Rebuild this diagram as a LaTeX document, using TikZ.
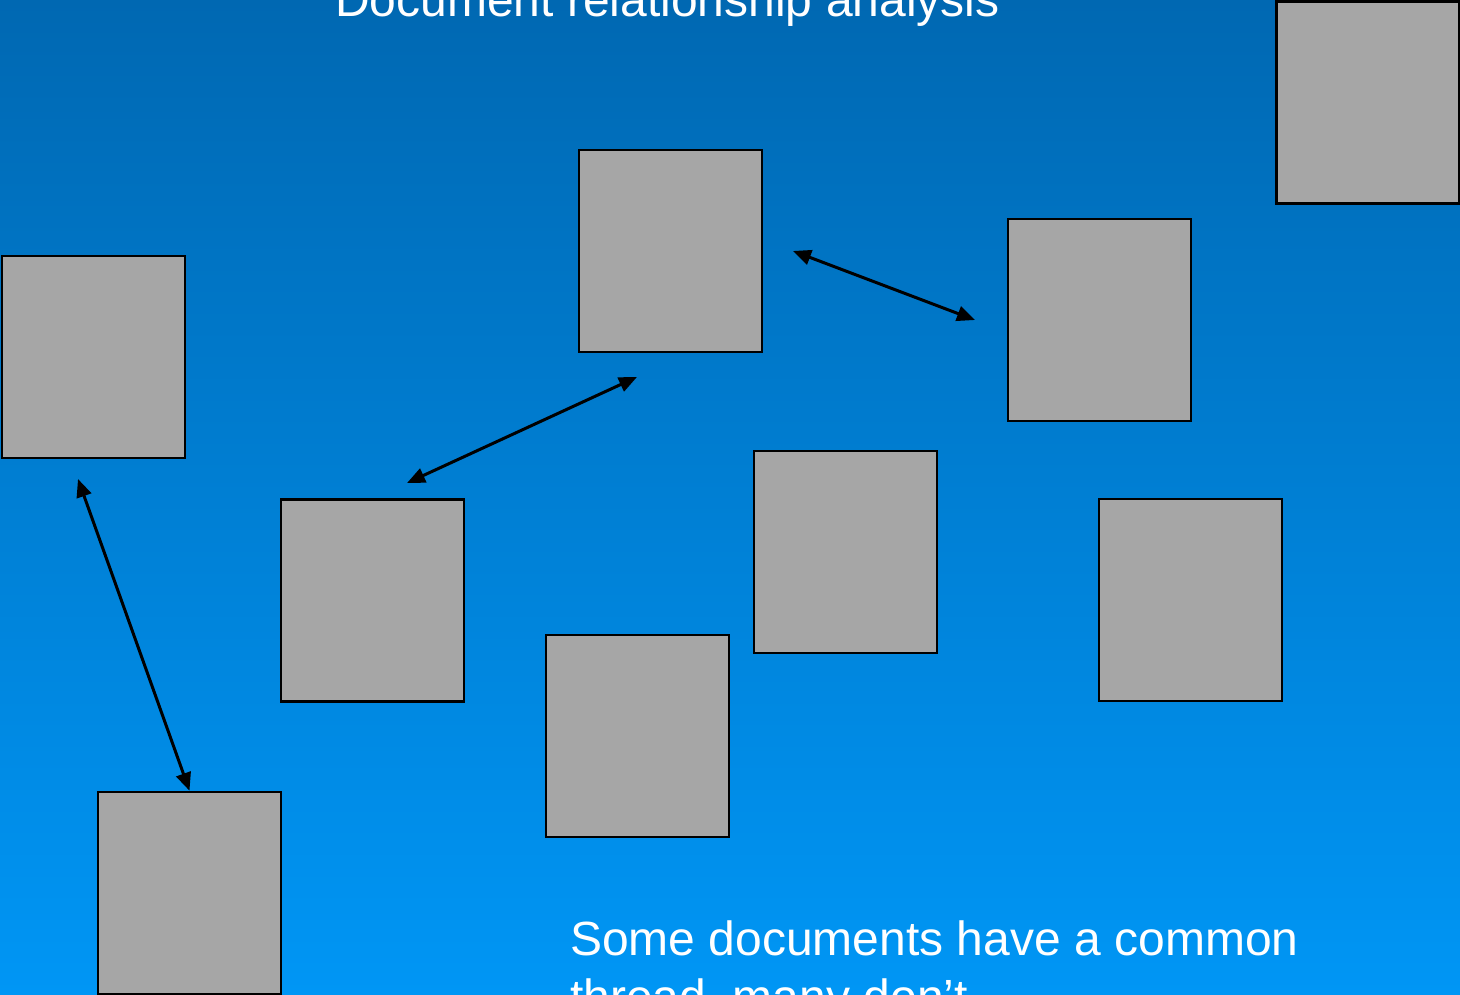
\documentclass[tikz,border=0pt]{standalone}
\usepackage{fontspec}
\setmainfont{Liberation Sans}
\usetikzlibrary{arrows.meta}
\definecolor{bgtop}{RGB}{0,104,178}
\definecolor{bgbot}{RGB}{0,150,245}
\definecolor{docgray}{RGB}{166,166,166}
\begin{document}
\begin{tikzpicture}[x=1pt,y=-1pt,
    doc/.style={draw=black,line width=2.5pt,fill=docgray,minimum width=183pt,minimum height=202pt,inner sep=0pt},
    link/.style={line width=3pt,{Triangle[length=18pt,width=15pt]}-{Triangle[length=18pt,width=15pt]}},
    caption/.style={text=white,inner sep=0pt,anchor=base west,font=\fontsize{48}{58}\selectfont}]
        \useasboundingbox (0,0) rectangle (1460,995);
        \clip (0,0) rectangle (1460,995);
        \shade [top color=bgtop,bottom color=bgbot] (0,0) rectangle (1460,995);
        \node [caption] (title) at (335,17) {Document relationship analysis};
        % the documents
        \node [doc] (d1) at (1368,102.5) {};
        \node [doc] (d2) at (670.5,251) {};
        \node [doc] (d3) at (1099.5,320) {};
        \node [doc] (d4) at (93.5,357) {};
        \node [doc] (d5) at (372.5,600.5) {};
        \node [doc] (d6) at (845.5,552) {};
        \node [doc] (d7) at (1190.5,600) {};
        \node [doc] (d8) at (637.5,736) {};
        \node [doc] (d9) at (189.5,893) {};
        % links between some of them
        \coordinate (a1) at (793,251);
        \coordinate (a2) at (975,320);
        \coordinate (b1) at (637,377);
        \coordinate (b2) at (407,483);
        \coordinate (c1) at (78,479);
        \draw [link] (a1) -- (a2);
        \draw [link] (b1) -- (b2);
        \draw [link] (c1) -- (d9.north);
        % base anchor sits on the last line here
        \node [caption,align=left] (note) at (570,1013) {Some documents have a common\\thread, many don’t};
    \end{tikzpicture}
\end{document}
